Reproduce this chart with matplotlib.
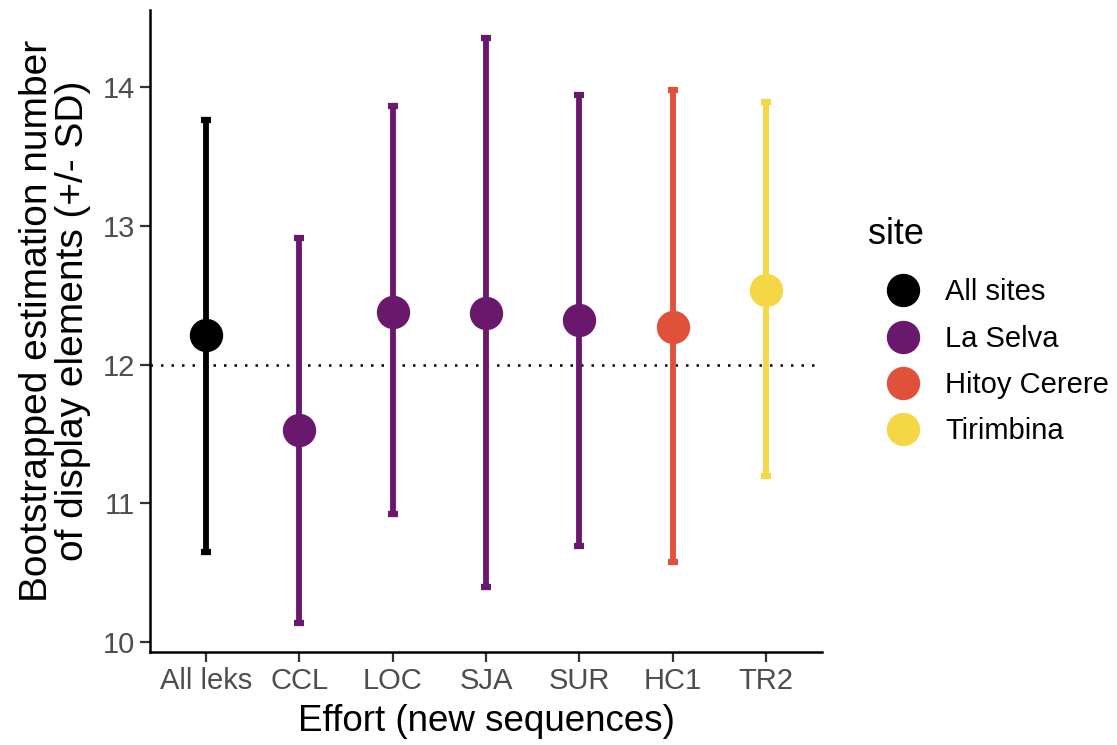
"""Bootstrapped estimates of display elements per lek, with +/- SD bars."""

import matplotlib

matplotlib.use("Agg")

import matplotlib.pyplot as plt
from matplotlib.lines import Line2D

plt.rcParams["font.family"] = ["Liberation Sans", "DejaVu Sans"]

leks = ["All leks", "CCL", "LOC", "SJA", "SUR", "HC1", "TR2"]
lek_sites = ["All sites", "La Selva", "La Selva", "La Selva", "La Selva", "Hitoy Cerere", "Tirimbina"]
means = [12.21, 11.53, 12.38, 12.37, 12.32, 12.27, 12.54]
upper = [13.76, 12.91, 13.86, 14.35, 13.94, 13.98, 13.89]
lower = [10.65, 10.14, 10.92, 10.40, 10.69, 10.58, 11.20]

sites = ["All sites", "La Selva", "Hitoy Cerere", "Tirimbina"]
site_colors = {
    "All sites": "#000000",
    "La Selva": "#6A176E",
    "Hitoy Cerere": "#DF513A",
    "Tirimbina": "#F5D645",
}

fig = plt.figure(figsize=(11.17, 7.45), dpi=100)
ax = fig.add_axes([0.1343, 0.1248, 0.6017, 0.8618])

ax.axhline(12, color="black", linestyle=(0, (1, 3.2)), linewidth=1.8, zorder=1)

for i, (lek, site) in enumerate(zip(leks, lek_sites)):
    color = site_colors[site]
    ax.errorbar(
        i, means[i],
        yerr=[[means[i] - lower[i]], [upper[i] - means[i]]],
        fmt="none", ecolor=color, elinewidth=4.2, capsize=3.5, capthick=4.5, zorder=2,
    )
    ax.plot(i, means[i], "o", color=color, markersize=23, zorder=3)

ax.set_xlim(-0.6, len(leks) - 0.4)
ax.set_ylim(9.928, 14.555)
ax.set_xticks(range(len(leks)))
ax.set_xticklabels(leks)
ax.set_yticks([10, 11, 12, 13, 14])

ax.spines["top"].set_visible(False)
ax.spines["right"].set_visible(False)
for side in ("left", "bottom"):
    ax.spines[side].set_linewidth(1.8)
ax.tick_params(axis="both", colors="#333333", labelcolor="#4D4D4D", labelsize=21,
               length=7, width=1.6, pad=4)

ax.set_xlabel("Effort (new sequences)", fontsize=26.5, labelpad=6)
ax.set_ylabel("Bootstrapped estimation number\nof display elements (+/- SD)",
              fontsize=28, linespacing=1.0)
ax.yaxis.set_label_coords(-0.0885, 0.5156)

handles = [
    Line2D([], [], marker="o", linestyle="none", color=site_colors[s], markersize=23)
    for s in sites
]
leg = fig.legend(
    handles, sites, title="site", loc="upper left",
    bbox_to_anchor=((868 - 22) / 1117, 0.738),
    frameon=False, fontsize=21, title_fontsize=26, borderpad=0.76, borderaxespad=0,
    handletextpad=0.25, labelspacing=0.63, handlelength=2.4,
)
leg._legend_box.align = "left"
# a bit more room between the title and the first entry
leg._legend_box.sep = 0.63 * 21 + 5.5

fig.savefig("out.png", dpi=100)
